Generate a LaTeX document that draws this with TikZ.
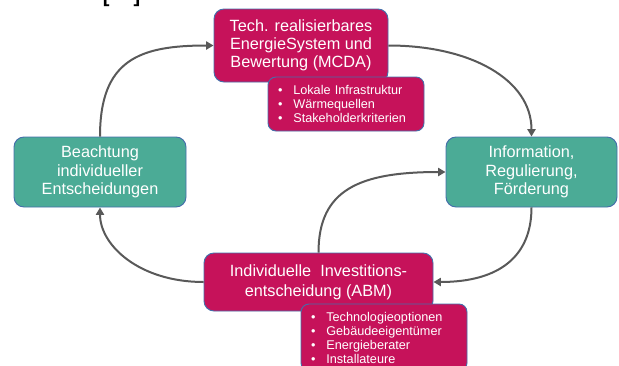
\documentclass[tikz,border=0pt]{standalone}
\usepackage{fontspec}
\setmainfont{Liberation Sans}
\usetikzlibrary{arrows.meta,shapes,positioning,calc}

\definecolor{modelred}{RGB}{198,18,90}
\definecolor{policygreen}{RGB}{75,171,150}
\definecolor{boxline}{RGB}{68,110,170}
\definecolor{flowgray}{RGB}{89,89,89}

\begin{document}
\begin{tikzpicture}[
    x=0.75pt, y=-0.75pt,
    model/.style={rectangle,rounded corners=7.5pt,draw=boxline,line width=0.7pt,fill=modelred,text=white,align=center,inner sep=0pt},
    policy/.style={rectangle,rounded corners=7.5pt,draw=boxline,line width=0.7pt,fill=policygreen,text=white,align=center,inner sep=0pt,
        minimum height=52.5pt,font=\fontsize{12.2}{13.8}\selectfont},
    detail/.style={rectangle,rounded corners=6pt,draw=boxline,line width=0.7pt,fill=modelred,text=white,align=left,
        inner xsep=7.5pt,inner ysep=0pt,font=\fontsize{9.5}{10.5}\selectfont},
    flow/.style={draw=flowgray,line width=1.5pt,-{Triangle[length=5.5pt,width=6pt]}}
]
    \useasboundingbox (0,0) rectangle (619,365);
    \clip (0,0) rectangle (619,365);
    \newcommand{\itm}{\makebox[11.5pt][l]{\textbullet}}

    % Nodes
    \node[anchor=base,inner sep=0pt,font=\bfseries\fontsize{15}{15}\selectfont] (cite) at (121.5,2) {[\hspace{18pt}]};
    \node[model,minimum width=130.5pt,minimum height=54.75pt,font=\fontsize{12.2}{13.3}\selectfont] (mcda) at (301,45.5)
        {Tech. realisierbares\\EnergieSystem und\\Bewertung (MCDA)};
    \node[detail,minimum width=117pt,minimum height=40.5pt,text width=102pt] (mcdalist) at (346,104)
        {\itm Lokale Infrastruktur\\\itm Wärmequellen\\\itm Stakeholderkriterien};
    \node[policy,minimum width=128.25pt] (info) at (531.5,172) {Information,\\Regulierung,\\Förderung};
    \node[policy,minimum width=129pt] (beach) at (100,172) {Beachtung\\individueller\\Entscheidungen};
    \node[model,minimum width=171.75pt,minimum height=43.5pt,font=\fontsize{12.2}{15}\selectfont] (abm) at (318.5,282)
        {Individuelle\ \ Investitions-\\entscheidung (ABM)};
    \node[detail,minimum width=124.5pt,minimum height=50.25pt,text width=109.5pt] (abmlist) at (384,337.5)
        {\itm Technologieoptionen\\\itm Gebäudeeigentümer\\\itm Energieberater\\\itm Installateure};

    % Edges
    \draw[flow] (beach.north) .. controls +(0,-77) and +(-74,0) .. (mcda.west);
    \draw[flow] (mcda.east) .. controls +(82,0) and +(0,-57) .. (info.north);
    \draw[flow] (info.south) .. controls +(0,48) and +(67,0) .. (abm.east);
    \draw[flow] (abm.west) .. controls +(-64,0) and +(0,38) .. (beach.south);
    \draw[flow] (abm.north) .. controls +(0,-63) and +(-86,0) .. (info.west);
\end{tikzpicture}
\end{document}
